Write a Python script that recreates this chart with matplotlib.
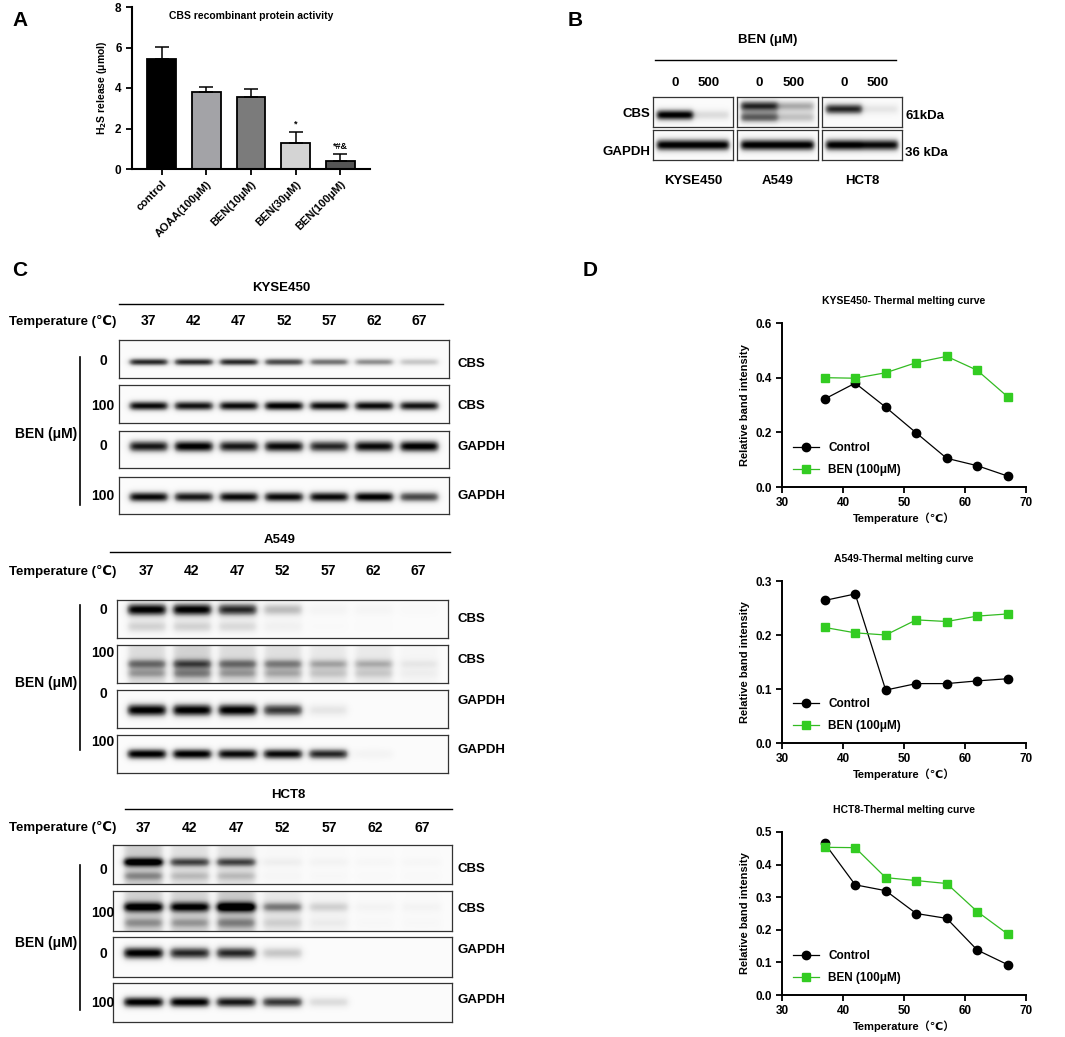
import numpy as np
import matplotlib
matplotlib.use("Agg")
import matplotlib.pyplot as plt
from matplotlib.lines import Line2D

plt.rcParams['font.family'] = ['Liberation Sans', 'DejaVu Sans', 'Noto Sans CJK SC']
plt.rcParams['font.weight'] = 'bold'
plt.rcParams['axes.labelweight'] = 'bold'
plt.rcParams['mathtext.default'] = 'bf'

W, H = 1065, 1037

# ---- panel A data ----
groups = ["control", "AOAA(100μM)", "BEN(10μM)", "BEN(30μM)", "BEN(100μM)"]
h2s_mean = [5.45, 3.82, 3.57, 1.30, 0.38]
h2s_err = [0.57, 0.23, 0.40, 0.55, 0.37]
bar_colors = ["#000000", "#a3a3a7", "#7b7b7b", "#d4d4d4", "#555555"]
signif = ["", "", "", "*", "*#&"]

# ---- panel B data ----
cells = ["KYSE450", "A549", "HCT8"]
doses_b = ["0", "500"]
cbs_b = [[1.0, 0.2], [0.85, 0.4], [0.85, 0.15]]
gapdh_b = [[1.0, 1.0], [1.0, 1.0], [1.0, 0.95]]

# ---- panel C data (relative band darkness per lane) ----
temps = [37, 42, 47, 52, 57, 62, 67]
kyse_cbs0 = [0.85, 0.85, 0.85, 0.75, 0.6, 0.5, 0.3]
kyse_cbs100 = [0.95, 0.92, 0.95, 1.0, 0.95, 0.95, 0.92]
kyse_gapdh0 = [0.9, 1.0, 0.9, 0.95, 0.85, 0.95, 1.0]
kyse_gapdh100 = [0.95, 0.9, 0.95, 0.95, 0.95, 1.0, 0.75]
a549_cbs0 = [1.0, 1.0, 0.85, 0.35, 0.06, 0.05, 0.02]
a549_cbs100 = [0.45, 0.55, 0.45, 0.4, 0.3, 0.28, 0.1]
a549_gapdh0 = [1.0, 1.0, 1.0, 0.8, 0.15, 0.0, 0.0]
a549_gapdh100 = [1.0, 1.0, 0.95, 0.95, 0.85, 0.06, 0.0]
hct8_cbs0 = [0.9, 0.6, 0.6, 0.08, 0.05, 0.03, 0.03]
hct8_cbs100 = [0.85, 0.8, 0.95, 0.45, 0.2, 0.05, 0.05]
hct8_gapdh0 = [1.0, 0.85, 0.85, 0.3, 0.0, 0.0, 0.0]
hct8_gapdh100 = [1.0, 1.0, 0.9, 0.8, 0.2, 0.0, 0.0]

# ---- panel D data ----
kyse_ctrl = [0.322, 0.380, 0.292, 0.198, 0.105, 0.078, 0.040]
kyse_ben = [0.400, 0.398, 0.418, 0.455, 0.478, 0.427, 0.330]
a549_ctrl = [0.264, 0.276, 0.098, 0.110, 0.110, 0.115, 0.119]
a549_ben = [0.214, 0.204, 0.200, 0.228, 0.225, 0.235, 0.239]
hct8_ctrl = [0.465, 0.338, 0.320, 0.250, 0.235, 0.138, 0.093]
hct8_ben = [0.453, 0.452, 0.360, 0.351, 0.342, 0.256, 0.187]

fig = plt.figure(figsize=(W / 100, H / 100), dpi=100)


def px_axes(x0, y0, x1, y1):
    return fig.add_axes([x0 / W, 1 - y1 / H, (x1 - x0) / W, (y1 - y0) / H])


def ftext(x, y, s, **kw):
    kw.setdefault("ha", "center")
    kw.setdefault("va", "center")
    kw.setdefault("fontweight", "bold")
    fig.text(x / W, 1 - y / H, s, **kw)


def hline(x0, x1, y, lw=1.0):
    fig.add_artist(Line2D([x0 / W, x1 / W], [1 - y / H, 1 - y / H],
                          transform=fig.transFigure, color="black", lw=lw))


def vline(x, y0, y1, lw=1.0):
    fig.add_artist(Line2D([x / W, x / W], [1 - y0 / H, 1 - y1 / H],
                          transform=fig.transFigure, color="black", lw=lw))


def blot(x0, y0, x1, y1, vals, yc=0.5, sy=0.1, halfw=0.42, pad=0.65,
         second=None, amp2=0.6, smear=0.0):
    ax = px_axes(x0, y0, x1, y1)
    n = len(vals)
    xs = np.linspace(-pad, n - 1 + pad, 400)
    ys = np.linspace(0, 1, 80)
    X, Y = np.meshgrid(xs, ys)
    Z = np.full(X.shape, 0.03)
    for i, v in enumerate(vals):
        lane = 1 / (1 + np.exp((np.abs(X - i) - halfw) / 0.04))
        Z += v * lane * np.exp(-0.5 * ((Y - yc) / sy) ** 2)
        if second is not None:
            Z += v * amp2 * lane * np.exp(-0.5 * ((Y - second) / sy) ** 2)
        Z += smear * v * lane
    ax.imshow(np.clip(Z, 0, 1), cmap="Greys", vmin=0, vmax=1, origin="lower",
              extent=(xs[0], xs[-1], 0, 1), aspect="auto", interpolation="bilinear")
    ax.set_xlim(xs[0], xs[-1])
    ax.set_ylim(0, 1)
    ax.set_xticks([])
    ax.set_yticks([])
    for s in ax.spines.values():
        s.set_color("#333333")
        s.set_linewidth(0.9)
    return ax


# ================= A =================
ftext(20, 20, "A", fontsize=15)
axA = px_axes(132, 7, 370, 169)
xa = np.arange(len(groups))
axA.bar(xa, h2s_mean, width=0.65, color=bar_colors, edgecolor="black", linewidth=1.3,
        yerr=[np.zeros(len(groups)), h2s_err], error_kw=dict(ecolor="black", elinewidth=1.1,
                                                              capsize=5, capthick=1.1))
for i, s in enumerate(signif):
    if s:
        axA.text(xa[i], h2s_mean[i] + h2s_err[i] + 0.15, s, ha="center", va="bottom",
                 fontsize=6.5)
axA.set_xlim(-0.67, len(groups) - 0.33)
axA.set_ylim(0, 8)
axA.set_yticks([0, 2, 4, 6, 8])
axA.set_xticks(xa)
axA.set_xticklabels(groups, rotation=45, ha="right", rotation_mode="anchor", fontsize=8)
axA.tick_params(axis="y", labelsize=8.5, width=1.3, length=4)
axA.tick_params(axis="x", width=1.3, length=4, pad=3)
axA.spines["top"].set_visible(False)
axA.spines["right"].set_visible(False)
for s in ("left", "bottom"):
    axA.spines[s].set_linewidth(1.5)
axA.set_ylabel(r"H$_2$S release (μmol)", fontsize=7.5)
axA.text(2.0, 7.55, "CBS recombinant protein activity", ha="center", va="center",
         fontsize=7.5)

# ================= B =================
ftext(575, 20, "B", fontsize=15)
ftext(768, 40, "BEN (μM)", fontsize=9.5)
hline(655, 896, 60)
box_x = [(653, 733), (737, 818), (822, 902)]
cbs_pos = [(0.4, None), (0.7, 0.32), (0.6, None)]
for k, (bx0, bx1) in enumerate(box_x):
    cx = (bx0 + bx1) / 2
    ftext(cx - 18, 83, doses_b[0], fontsize=9.5)
    ftext(cx + 16, 83, doses_b[1], fontsize=9.5)
    yc, sec = cbs_pos[k]
    blot(bx0, 97, bx1, 127, cbs_b[k], yc=yc, sy=0.13, halfw=0.5, pad=0.6, second=sec,
         amp2=0.8)
    blot(bx0, 130, bx1, 160, gapdh_b[k], yc=0.5, sy=0.14, halfw=0.5, pad=0.6)
    ftext(cx, 181, cells[k], fontsize=9.5)
ftext(650, 114, "CBS", fontsize=9.5, ha="right")
ftext(650, 152, "GAPDH", fontsize=9.5, ha="right")
ftext(905, 116, "61kDa", fontsize=9.5, ha="left")
ftext(905, 153, "36 kDa", fontsize=9.5, ha="left")

# ================= C =================
ftext(20, 270, "C", fontsize=15)


def blot_set(name, name_y, line, temp_y, box_x0, box_x1, rows, conc_y, lab_y, vspan, ben_y):
    ftext((line[0] + line[1]) / 2, name_y, name, fontsize=9.5)
    hline(line[0], line[1], line[2])
    ftext(116, temp_y, "Temperature (℃)", fontsize=9.5, ha="right")
    step = (box_x1 - box_x0) / (len(temps) - 1 + 2 * 0.65)
    for i, t in enumerate(temps):
        ftext(box_x0 + (0.65 + i) * step, temp_y, str(t), fontsize=10)
    for (ry0, ry1, vals, kw), cy, ly, conc, lab in zip(rows, conc_y, lab_y,
                                                       ["0", "100", "0", "100"],
                                                       ["CBS", "CBS", "GAPDH", "GAPDH"]):
        blot(box_x0, ry0, box_x1, ry1, vals, **kw)
        ftext(103, cy, conc, fontsize=10)
        ftext(457, ly, lab, fontsize=9.5, ha="left")
    vline(80, vspan[0], vspan[1], lw=1.2)
    ftext(46, ben_y, "BEN (μM)", fontsize=10)


blot_set("KYSE450", 288, (119, 443, 304), 321, 119, 449,
         [(340, 378, kyse_cbs0, dict(yc=0.42, sy=0.07)),
          (385, 423, kyse_cbs100, dict(yc=0.45, sy=0.09)),
          (431, 468, kyse_gapdh0, dict(yc=0.57, sy=0.11)),
          (477, 514, kyse_gapdh100, dict(yc=0.46, sy=0.1))],
         [361, 406, 446, 496], [364, 406, 447, 496], (357, 505), 434)

blot_set("A549", 540, (110, 450, 552), 571, 117, 448,
         [(600, 638, a549_cbs0, dict(yc=0.75, sy=0.12, second=0.3, amp2=0.25)),
          (645, 683, a549_cbs100, dict(yc=0.5, sy=0.09, second=0.25, smear=0.45)),
          (690, 728, a549_gapdh0, dict(yc=0.47, sy=0.12)),
          (735, 773, a549_gapdh100, dict(yc=0.5, sy=0.1))],
         [610, 653, 694, 742], [619, 660, 701, 750], (605, 750), 683)

blot_set("HCT8", 795, (125, 452, 809), 828, 113, 452,
         [(845, 884, hct8_cbs0, dict(yc=0.56, sy=0.08, second=0.2, amp2=0.3, smear=0.3)),
          (891, 931, hct8_cbs100, dict(yc=0.6, sy=0.09, second=0.2, amp2=0.3, smear=0.3)),
          (937, 977, hct8_gapdh0, dict(yc=0.6, sy=0.11)),
          (983, 1022, hct8_gapdh100, dict(yc=0.51, sy=0.1))],
         [870, 913, 954, 1003], [869, 909, 950, 1000], (865, 1010), 943)

# ================= D =================
ftext(590, 270, "D", fontsize=15)


def melt(y0, y1, title, ctrl, ben, ymax, step):
    ax = px_axes(782, y0, 1026, y1)
    ax.plot(temps, ctrl, "-o", color="black", lw=0.9, ms=6, label="Control")
    ax.plot(temps, ben, "-s", color="#33bb22", mfc="#33cc22", mec="#33cc22", lw=0.9, ms=6,
            label="BEN (100μM)")
    ax.set_xlim(30, 70)
    ax.set_ylim(0, ymax)
    ax.set_xticks([30, 40, 50, 60, 70])
    ax.set_yticks(np.round(np.arange(0, ymax + 1e-9, step), 1))
    ax.yaxis.set_major_formatter(plt.FormatStrFormatter("%.1f"))
    ax.spines["top"].set_visible(False)
    ax.spines["right"].set_visible(False)
    for s in ("left", "bottom"):
        ax.spines[s].set_linewidth(1.4)
    ax.tick_params(labelsize=8.5, width=1.3, length=4)
    ax.set_ylabel("Relative band intensity", fontsize=8)
    ax.set_xlabel("Temperature（℃）", fontsize=8, labelpad=2)
    ax.set_title(title, fontsize=7.5, fontweight="bold", pad=14)
    ax.legend(loc="lower left", bbox_to_anchor=(0.0, 0.0), frameon=False,
              fontsize=8.5, handlelength=2.2, labelspacing=0.9)
    return ax


melt(323, 487, "KYSE450- Thermal melting curve", kyse_ctrl, kyse_ben, 0.6, 0.2)
melt(581, 743, "A549-Thermal melting curve", a549_ctrl, a549_ben, 0.3, 0.1)
melt(832, 995, "HCT8-Thermal melting curve", hct8_ctrl, hct8_ben, 0.5, 0.1)

fig.savefig("out.png", dpi=100)
